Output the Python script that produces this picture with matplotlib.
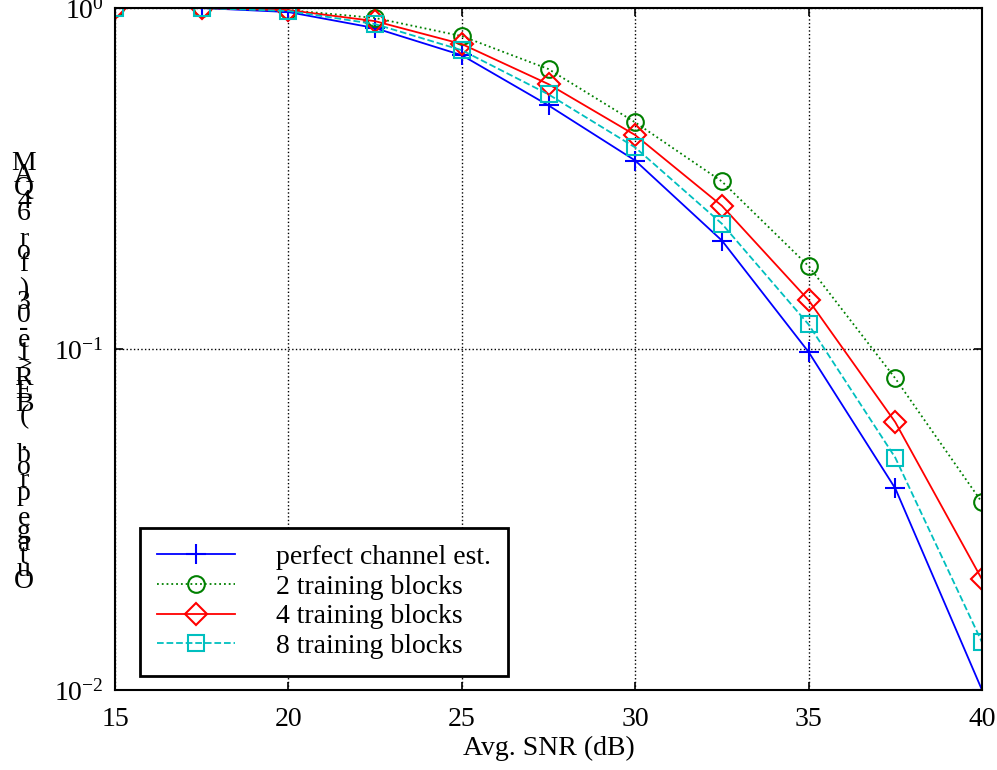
import matplotlib
matplotlib.use("Agg")
import matplotlib.pyplot as plt
import numpy as np

plt.rcParams['font.family'] = ['Liberation Serif', 'DejaVu Serif']
plt.rcParams['mathtext.fontset'] = 'stix'

snr = [15, 17.5, 20, 22.5, 25, 27.5, 30, 32.5, 35, 37.5, 40]
perfect = [1.0, 1.0, 0.973, 0.873, 0.727, 0.518, 0.357, 0.208, 0.098, 0.039, 0.010]
train2 = [1.0, 1.0, 0.986, 0.935, 0.827, 0.662, 0.462, 0.310, 0.175, 0.082, 0.0355]
train4 = [1.0, 1.0, 0.986, 0.915, 0.784, 0.598, 0.424, 0.263, 0.139, 0.061, 0.0211]
train8 = [1.0, 1.0, 0.980, 0.897, 0.752, 0.558, 0.390, 0.233, 0.118, 0.048, 0.0138]
labels = ["perfect channel est.", "2 training blocks", "4 training blocks", "8 training blocks"]
ylabel = "Outage prob. (BER>1e-03) for 64QAM"

fs = 20

fig = plt.figure(figsize=(9.97, 7.7), dpi=100)
ax = fig.add_axes([115/997, 1-690/770, 867/997, 682/770])

ax.semilogy(snr, perfect, color='b', ls='-', marker='+', ms=14, mew=1.5, lw=1.3, label=labels[0])
ax.semilogy(snr, train2, color=(0, 0.5, 0), ls=':', marker='o', ms=12, mfc='none', mew=1.5, lw=1.3, label=labels[1])
ax.semilogy(snr, train4, color='r', ls='-', marker='D', ms=11, mfc='none', mew=1.5, lw=1.3, label=labels[2])
ax.semilogy(snr, train8, color=(0, 0.75, 0.75), ls='--', marker='s', ms=12, mfc='none', mew=1.5, lw=1.3, label=labels[3])

ax.set_xlim(15, 40)
ax.set_ylim(1e-2, 1)
ax.set_xticks([15, 20, 25, 30, 35, 40])
ax.set_yticks([1e-2, 1e-1, 1])
ax.minorticks_off()
ax.grid(True, which='major', color='k', ls=':', lw=1.0)
ax.tick_params(direction='in', top=True, right=True, labelsize=fs, length=6, width=1.2)
ax.tick_params(axis='x', pad=12)
ax.tick_params(axis='y', pad=8)
for s in ax.spines.values():
    s.set_linewidth(1.5)
ax.set_xlabel("Avg. SNR (dB)", fontsize=fs, labelpad=3)

leg = ax.legend(loc='lower left', bbox_to_anchor=(0.029, 0.021), borderaxespad=0,
                fontsize=fs, fancybox=False, framealpha=1, edgecolor='k',
                handlelength=2.8, handletextpad=1.5, labelspacing=0.15,
                borderpad=0.6)
leg.get_frame().set_linewidth(2)

# y label drawn as stacked upright characters, bottom to top
n = len(ylabel)
y0, y1 = 582/770, 163/770
for i, ch in enumerate(ylabel):
    y = 1 - (y0 + (y1 - y0) * i / (n - 1))
    fig.text(24/997, y, ch, ha='center', va='center', fontsize=fs)

fig.savefig("out.png", dpi=100)
